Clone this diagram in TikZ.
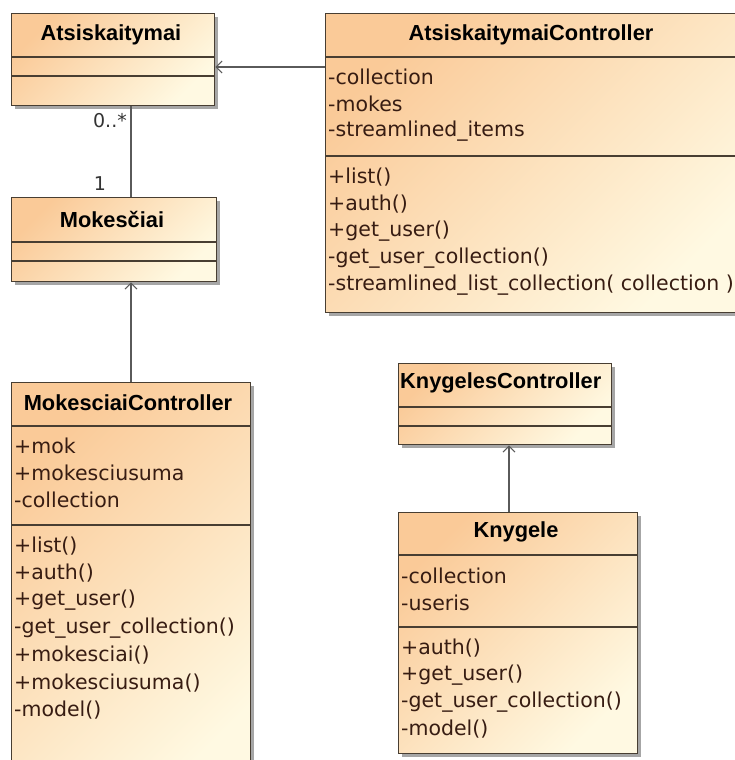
\documentclass[tikz,border=0pt]{standalone}
\usepackage{fontspec}
\setmainfont{Liberation Sans}
\newfontfamily\memberfont{DejaVu Sans}
\usetikzlibrary{arrows.meta,shadows}
\definecolor{umlpeach}{RGB}{250,202,152}
\definecolor{umlcream}{RGB}{255,249,226}
\definecolor{umlline}{RGB}{72,62,50}
\definecolor{umltext}{RGB}{55,28,18}
\definecolor{umlarrow}{RGB}{90,90,90}
\tikzset{
  classbox/.style={draw=umlline, line width=1.3pt, anchor=north west, inner sep=0pt,
    top color=umlpeach, bottom color=umlcream, shading angle=45,
    drop shadow={shadow xshift=3pt, shadow yshift=-3pt, fill=black, opacity=0.35}},
  sepline/.style={draw=umlline, line width=1.1pt},
  classtitle/.style={inner sep=0pt, font=\fontsize{21.8}{26}\selectfont\bfseries, text=black},
  member/.style={anchor=west, inner sep=0pt, font=\memberfont\fontsize{20.5}{24}\selectfont, text=umltext},
  mult/.style={inner sep=0pt, font=\memberfont\fontsize{19}{22}\selectfont, text=black!80},
  nav/.style={draw=umlarrow, line width=1.1pt, -{Straight Barb[length=6pt,width=12pt,line width=1.1pt]}},
  assoc/.style={draw=umlarrow, line width=1.1pt},
}
\begin{document}
\begin{tikzpicture}[x=1pt,y=-1pt]
\useasboundingbox (0,0) rectangle (735,760);
\clip (0,0) rectangle (735,760);

% ---------- Atsiskaitymai ----------
\node[classbox, minimum width=203pt, minimum height=92pt] (atsk) at (11,13) {};
\draw[sepline] (11,57) -- (214,57);
\draw[sepline] (11,76) -- (214,76);
\node[classtitle] (atskT) at (111,35) {Atsiskaitymai};

% ---------- Mokesčiai ----------
\node[classbox, minimum width=205pt, minimum height=84pt] (mok) at (11,197) {};
\draw[sepline] (11,242) -- (216,242);
\draw[sepline] (11,261) -- (216,261);
\node[classtitle] (mokT) at (112,219) {Mokesčiai};

% ---------- AtsiskaitymaiController ----------
\node[classbox, minimum width=420pt, minimum height=299pt] (actrl) at (325,13) {};
\draw[sepline] (325,57) -- (745,57);
\draw[sepline] (325,156) -- (745,156);
\node[classtitle] (actrlT) at (531,35) {AtsiskaitymaiController};
\node[member] (ac1) at (328,77) {-collection};
\node[member] (ac2) at (328,104) {-mokes};
\node[member] (ac3) at (328,131) {-streamlined\_items};
\node[member] (ac4) at (328,177) {+list()};
\node[member] (ac5) at (328,204) {+auth()};
\node[member] (ac6) at (328,231) {+get\_user()};
\node[member] (ac7) at (328,258) {-get\_user\_collection()};
\node[member] (ac8) at (328,285) {-streamlined\_list\_collection( collection )};

% ---------- MokesciaiController ----------
\node[classbox, minimum width=239pt, minimum height=420pt] (mctrl) at (11,382) {};
\draw[sepline] (11,426) -- (250,426);
\draw[sepline] (11,525) -- (250,525);
\node[classtitle] (mctrlT) at (128,403) {MokesciaiController};
\node[member] (mc1) at (14,446) {+mok};
\node[member] (mc2) at (14,473) {+mokesciusuma};
\node[member] (mc3) at (14,500) {-collection};
\node[member] (mc4) at (14,546) {+list()};
\node[member] (mc5) at (14,573) {+auth()};
\node[member] (mc6) at (14,600) {+get\_user()};
\node[member] (mc7) at (14,628) {-get\_user\_collection()};
\node[member] (mc8) at (14,655) {+mokesciai()};
\node[member] (mc9) at (14,683) {+mokesciusuma()};
\node[member] (mc10) at (14,710) {-model()};

% ---------- KnygelesController ----------
\node[classbox, minimum width=213pt, minimum height=81pt] (kctrl) at (398,363) {};
\draw[sepline] (398,407) -- (611,407);
\draw[sepline] (398,426) -- (611,426);
\node[classtitle, anchor=west] (kctrlT) at (400,383) {KnygelesController};

% ---------- Knygele ----------
\node[classbox, minimum width=239pt, minimum height=241pt] (kn) at (398,512) {};
\draw[sepline] (398,555) -- (637,555);
\draw[sepline] (398,627) -- (637,627);
\node[classtitle] (knT) at (516,532) {Knygele};
\node[member] (kn1) at (401,576) {-collection};
\node[member] (kn2) at (401,603) {-useris};
\node[member] (kn3) at (401,648) {+auth()};
\node[member] (kn4) at (401,675) {+get\_user()};
\node[member] (kn5) at (401,702) {-get\_user\_collection()};
\node[member] (kn6) at (401,729) {-model()};

% ---------- relations ----------
\coordinate (navrow) at (0,67);
\coordinate (assoccol) at (131,0);
\coordinate (kncol) at (509,0);
\draw[nav] (actrl.west |- navrow) -- (atsk.east |- navrow);
\draw[assoc] (atsk.south -| assoccol) -- (mok.north -| assoccol);
\node[mult, anchor=east] (multmany) at (127,121) {0..*};
\node[mult] (multone) at (100,184) {1};
\draw[nav] (mctrl.north -| assoccol) -- (mok.south -| assoccol);
\draw[nav] (kn.north -| kncol) -- (kctrl.south -| kncol);
\end{tikzpicture}
\end{document}
